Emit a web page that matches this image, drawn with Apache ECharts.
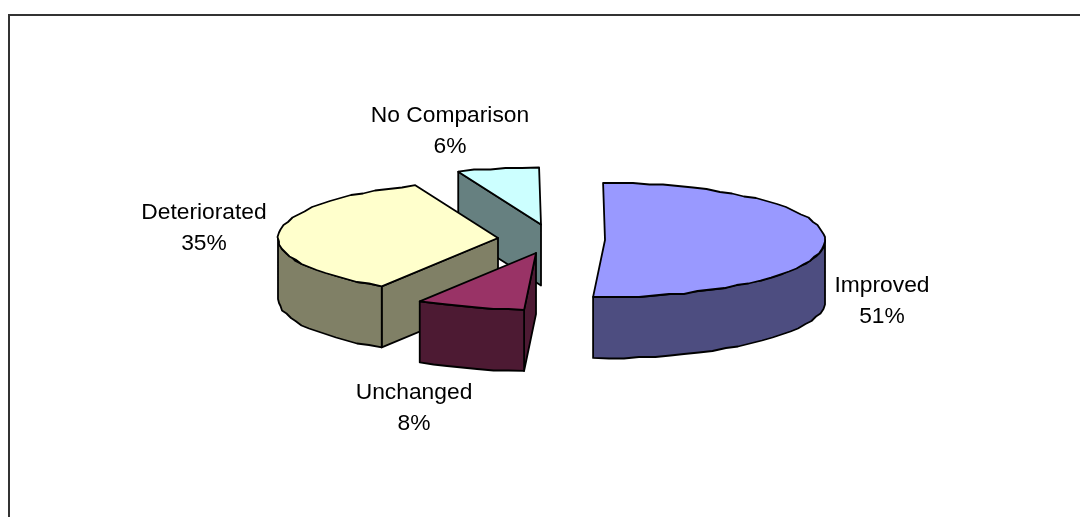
<!DOCTYPE html>
<html>
<head>
<meta charset="utf-8">
<style>
  html, body { margin: 0; padding: 0; background: #fff; }
  #chart { width: 1080px; height: 517px; }
</style>
<script src="https://cdn.jsdelivr.net/npm/echarts@6/dist/echarts.min.js"></script>
</head>
<body>
<div id="chart"></div>
<script>
// Share of cases by outcome, clockwise from twelve o'clock.
const categories = ['Improved', 'Unchanged', 'Deteriorated', 'No Comparison'];
const shares = [51, 8, 35, 6];

const topColors = ['#9999FF', '#993366', '#FFFFCC', '#CCFFFF'];
const sideColors = ['#4D4D80', '#4D1A33', '#808066', '#668080'];

// Exploded slice tips and label centres, in pixels.
const sliceTips = [[605, 240], [536, 253], [498, 238], [541, 224.5]];
const labelCentres = [[882, 301.5], [414, 408.5], [204, 228], [450, 131.5]];
// Back-to-front paint rank so nearer slices overlap farther ones.
const paintRank = [1, 3, 2, 0];

const RX = 220, RY = 57, DEPTH = 61;
const FIRST_ANGLE = -0.5;
const ARC_STEP = 4, SNAP = 1.5;

const total = shares.reduce((a, b) => a + b, 0);
const startShares = [];
shares.reduce((acc, v, i) => { startShares[i] = acc; return acc + v; }, 0);

const rad = d => d * Math.PI / 180;
const snap = v => Math.round(v / SNAP) * SNAP;

// Rim point of a slice; inner samples snap to a coarse grid for a plotted-outline look.
function rim(tip, deg, drop, snapped) {
  const x = tip[0] + RX * Math.sin(rad(deg));
  const y = tip[1] - RY * Math.cos(rad(deg)) + drop;
  return snapped ? [snap(x), snap(y)] : [x, y];
}

function arc(tip, from, to, drop) {
  const pts = [];
  const n = Math.max(1, Math.round((to - from) / ARC_STEP));
  for (let k = 0; k <= n; k++) {
    pts.push(rim(tip, from + (to - from) * k / n, drop, k > 0 && k < n));
  }
  return pts;
}

function renderSlice(params, api) {
  const i = api.value(0);
  const from = FIRST_ANGLE + api.value(1) / total * 360;
  const to = from + api.value(2) / total * 360;
  const tip = sliceTips[i];
  const line = { stroke: '#000', lineWidth: 1.8, lineJoin: 'round' };
  const z2 = paintRank[i] * 10;
  const face = (pts, fill, offset) => ({
    type: 'polygon', z2: z2 + offset,
    shape: { points: pts }, style: Object.assign({ fill }, line)
  });
  const cutFace = deg => {
    const a = rim(tip, deg, 0, false);
    return face([tip, a, [a[0], a[1] + DEPTH], [tip[0], tip[1] + DEPTH]], sideColors[i], 0);
  };
  const children = [];

  // Cut faces are shown only when they turn towards the viewer.
  if (Math.sin(rad(from)) < -0.05) children.push(cutFace(from));
  if (Math.sin(rad(to)) > 0.05) children.push(cutFace(to));

  // Outer wall covers the front half of the rim.
  const wallFrom = Math.max(from, 90), wallTo = Math.min(to, 270);
  if (wallTo > wallFrom) {
    const upper = arc(tip, wallFrom, wallTo, 0);
    const lower = arc(tip, wallFrom, wallTo, DEPTH).reverse();
    children.push(face(upper.concat(lower), sideColors[i], 1));
  }

  children.push(face([tip].concat(arc(tip, from, to, 0)), topColors[i], 2));

  children.push({
    type: 'text', z2: 100,
    style: {
      text: categories[i] + '\n' + api.value(2) + '%',
      x: labelCentres[i][0], y: labelCentres[i][1],
      font: '22.8px "Liberation Sans", Arial, sans-serif',
      lineHeight: 31,
      align: 'center', verticalAlign: 'middle',
      fill: '#000'
    }
  });
  return { type: 'group', children };
}

const chart = echarts.init(document.getElementById('chart'), null, { renderer: 'canvas' });
chart.setOption({
  animation: false,
  backgroundColor: '#fff',
  graphic: [{
    type: 'polyline',
    shape: { points: [[9, 517], [9, 15], [1080, 15]] },
    style: { stroke: '#333', lineWidth: 2, fill: null }
  }],
  series: [{
    type: 'custom',
    coordinateSystem: 'none',
    renderItem: renderSlice,
    data: categories.map((_, i) => [i, startShares[i], shares[i]])
  }]
});
</script>
</body>
</html>
